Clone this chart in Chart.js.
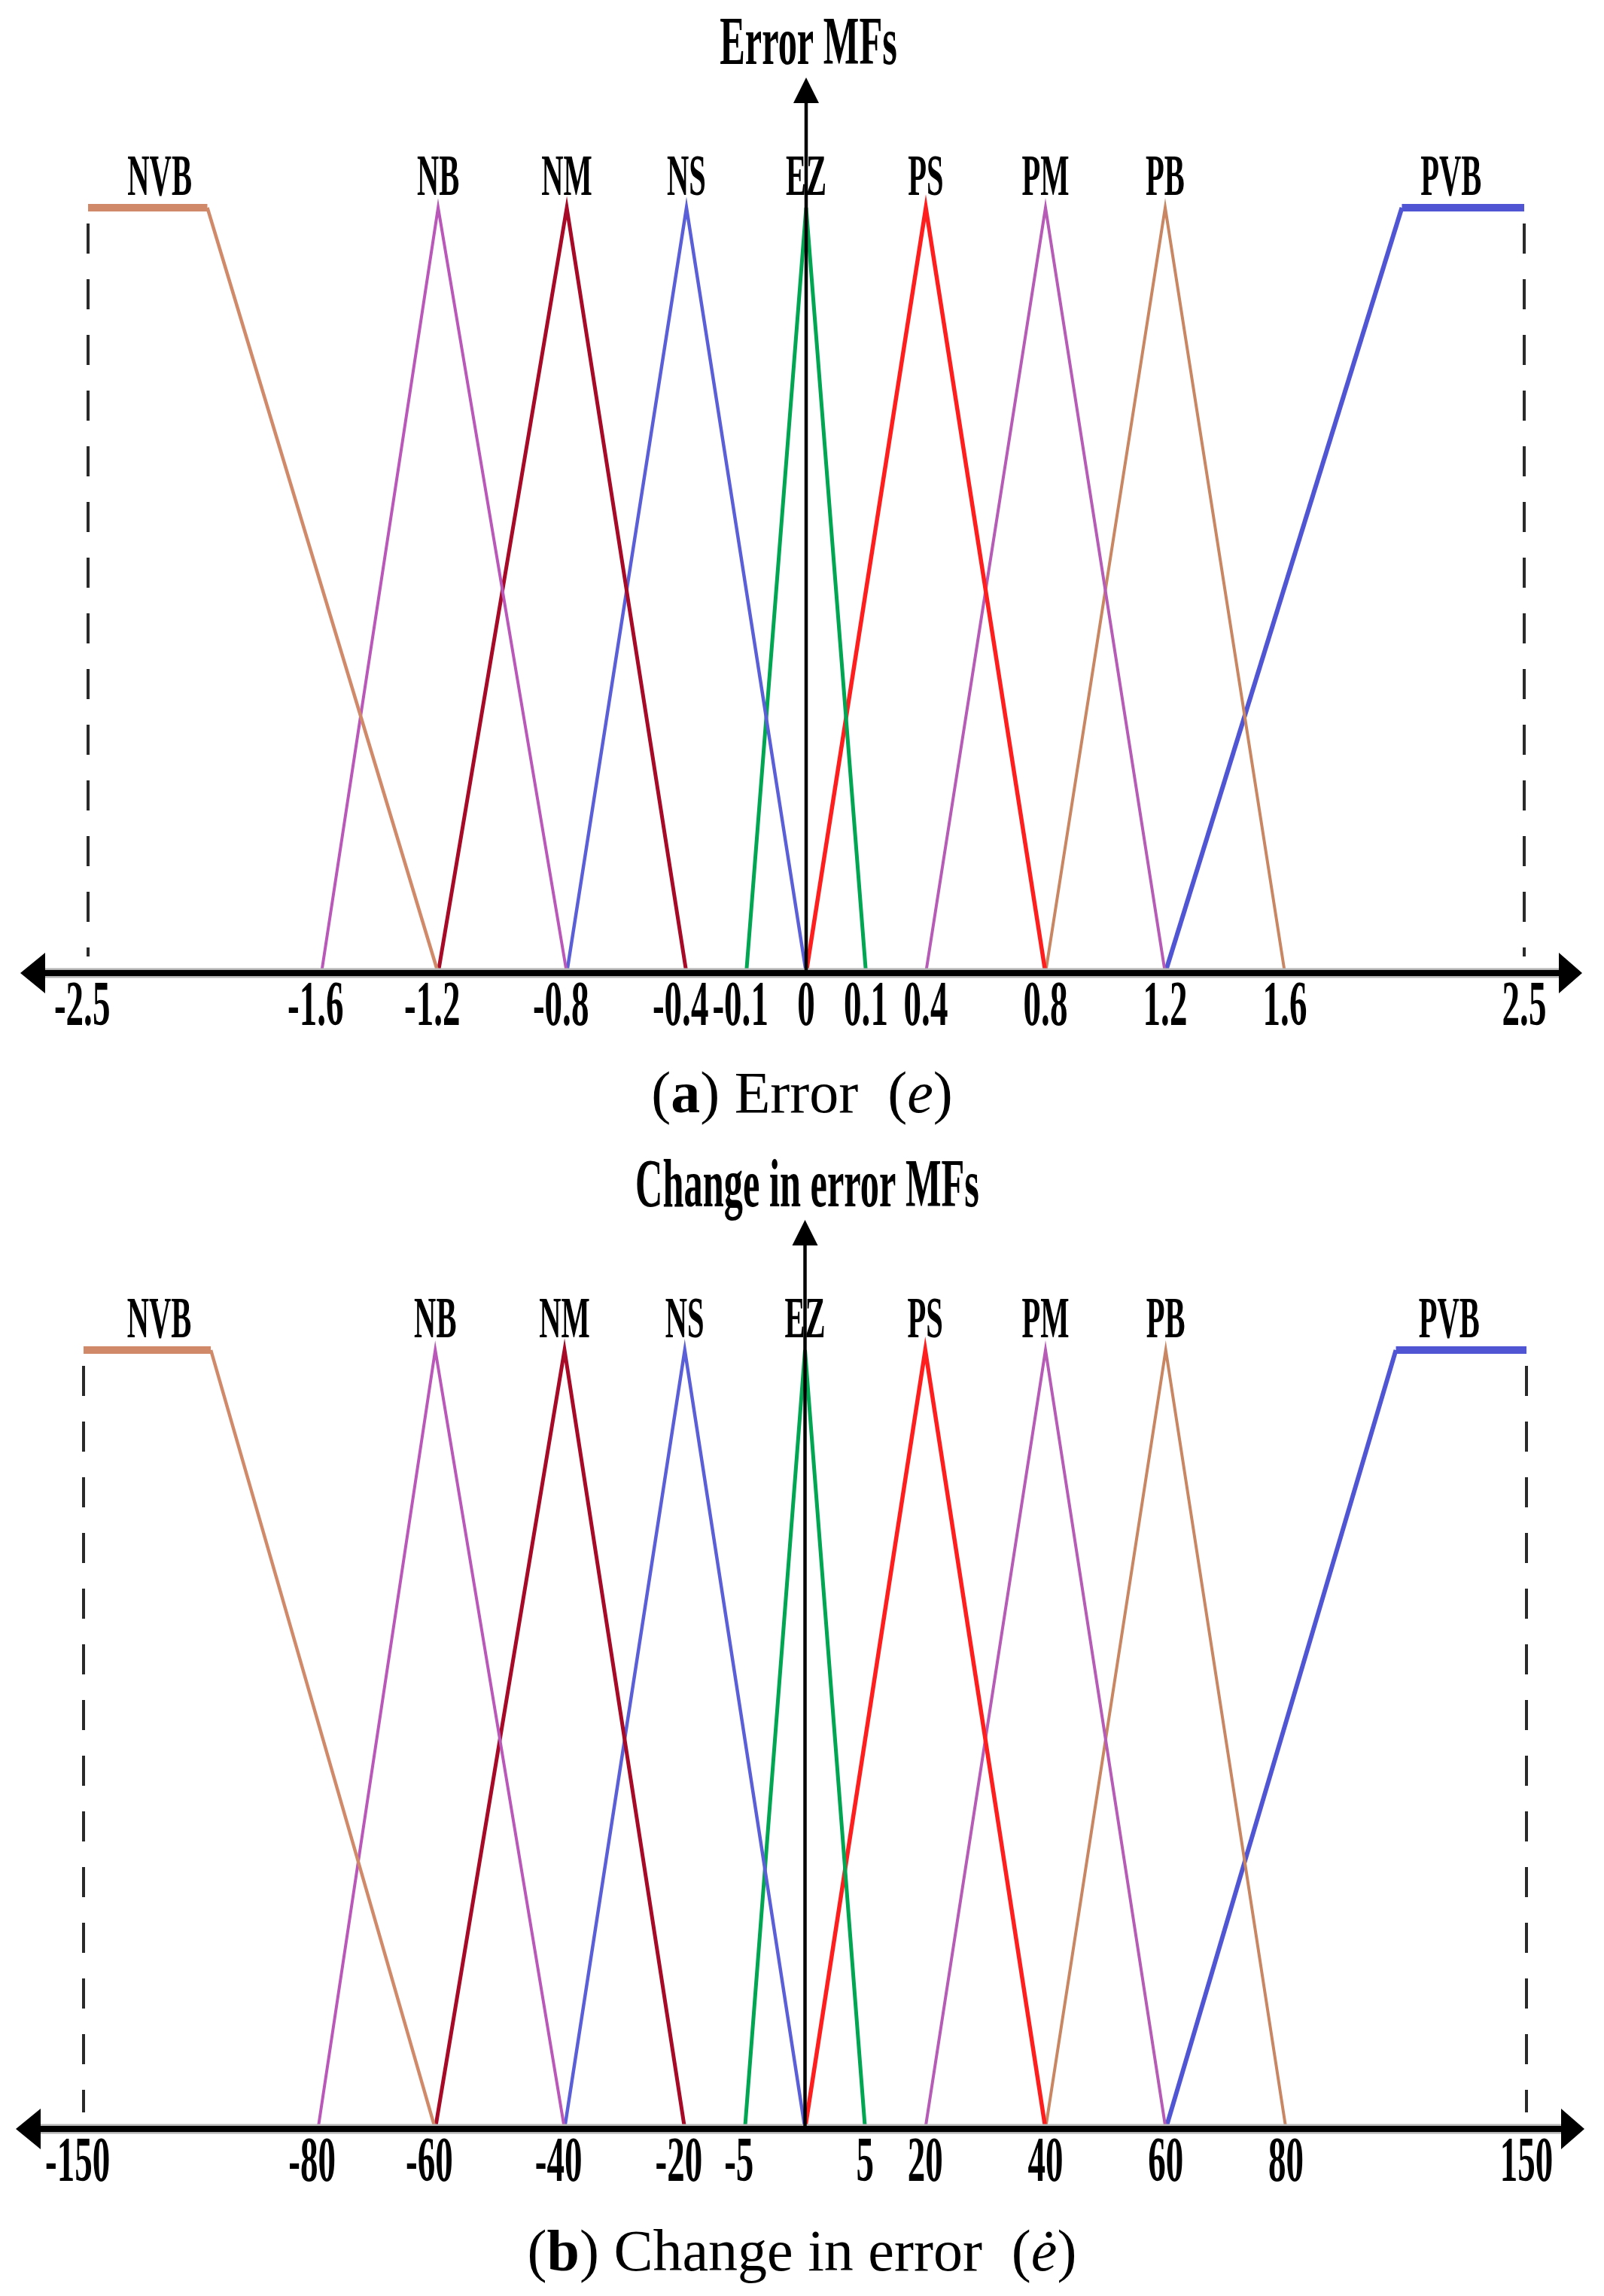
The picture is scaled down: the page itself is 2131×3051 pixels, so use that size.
<!DOCTYPE html>
<html>
<head>
<meta charset="utf-8">
<script src="https://cdn.jsdelivr.net/npm/chart.js@4.4.1/dist/chart.umd.min.js"></script>
<style>
html,body{margin:0;padding:0;background:#fff;}
#wrap{position:relative;width:2131px;height:3051px;overflow:hidden;background:#fff;}
canvas{position:absolute;left:0;}
.cap{position:absolute;left:0;width:2131px;text-align:center;font-family:"Liberation Serif","Times New Roman",serif;font-size:78px;line-height:78px;color:#000;white-space:pre;}
</style>
</head>
<body>
<div id="wrap">
  <canvas id="chartA" width="2131" height="1400" style="top:0px;width:2131px;height:1400px;"></canvas>
  <div class="cap" style="top:1413px;">(<b>a</b>) Error  (<i>e</i>)</div>
  <canvas id="chartB" width="2131" height="1440" style="top:1500px;width:2131px;height:1440px;"></canvas>
  <div class="cap" style="top:2952px;">(<b>b</b>) Change in error  (<i>ė</i>)</div>
</div>
<script>
// ---------------- DATA ----------------
const mfNames = ['NVB','NB','NM','NS','EZ','PS','PM','PB','PVB'];

// (a) Error: tick values and labels
const errorTicks = [-2.5,-1.6,-1.2,-0.8,-0.4,-0.1,0,0.1,0.4,0.8,1.2,1.6,2.5];
const errorTickLabels = ['-2.5','-1.6','-1.2','-0.8','-0.4','-0.1','0','0.1','0.4','0.8','1.2','1.6','2.5'];
// (a) Error MF breakpoints
const eNVB = [-2.5,-2.04,-1.2];
const eNB  = [-1.6,-1.2,-0.8];
const eNM  = [-1.2,-0.8,-0.4];
const eNS  = [-0.8,-0.4,0];
const eEZ  = [-0.1,0,0.1];
const ePS  = [0,0.4,0.8];
const ePM  = [0.4,0.8,1.2];
const ePB  = [0.8,1.2,1.6];
const ePVB = [1.2,2.04,2.5];

// (b) Change in error: tick values and labels
const dErrorTicks = [-150,-80,-60,-40,-20,-5,0,5,20,40,60,80,150];
const dErrorTickLabels = ['-150','-80','-60','-40','-20','-5','','5','20','40','60','80','150'];
// (b) Change in error MF breakpoints
const dNVB = [-150,-112,-60];
const dNB  = [-80,-60,-40];
const dNM  = [-60,-40,-20];
const dNS  = [-40,-20,0];
const dEZ  = [-5,0,5];
const dPS  = [0,20,40];
const dPM  = [20,40,60];
const dPB  = [40,60,80];
const dPVB = [60,112,150];

// membership degrees at the breakpoints
const muLeft  = [1,1,0];
const muTri   = [0,1,0];
const muRight = [0,1,1];
const mfShapes = [muLeft,muTri,muTri,muTri,muTri,muTri,muTri,muTri,muRight];

// ---------------- LAYOUT / STYLE ----------------
// schematic (non-uniform) axis: slot position of each tick along the axis
const axisSlots = [0,3.9,5.85,8,10,11,12,13,14,16,18,20,24];
const mfStyle = [
  {color:'#D08A6A', width:4.5},
  {color:'#BA58BA', width:4},
  {color:'#A60A26', width:5},
  {color:'#5A5FD8', width:4.5},
  {color:'#00A652', width:5},
  {color:'#FF1E1E', width:5.5},
  {color:'#B65CB6', width:4},
  {color:'#C98662', width:4},
  {color:'#5055D4', width:6}
];
const FONT = '"Liberation Serif","Times New Roman",serif';

function makeWarp(ticks){
  return function(v){
    for(let i=0;i<ticks.length-1;i++){
      if(v>=ticks[i] && v<=ticks[i+1]){
        return axisSlots[i] + (v-ticks[i])/(ticks[i+1]-ticks[i])*(axisSlots[i+1]-axisSlots[i]);
      }
    }
    return v<ticks[0] ? axisSlots[0] : axisSlots[axisSlots.length-1];
  };
}

function squeezeText(ctx, text, x, y, size, sx, hangMinus){
  ctx.save();
  ctx.font = 'bold ' + size + 'px ' + FONT;
  ctx.textAlign = 'center';
  ctx.textBaseline = 'alphabetic';
  ctx.fillStyle = '#000';
  let dx = 0;
  if (hangMinus && text.charAt(0) === '-') dx = -ctx.measureText('-').width / 2;
  ctx.translate(x, y);
  ctx.scale(sx, 1);
  ctx.fillText(text, dx, 0);
  ctx.restore();
}

function makeDecor(cfg){
  return {
    id: 'decor',
    beforeDatasetsDraw(chart){
      const ctx = chart.ctx, xs = chart.scales.x, ys = chart.scales.y;
      const y1 = ys.getPixelForValue(1), y0 = ys.getPixelForValue(0);
      const ends = [cfg.ticks[0], cfg.ticks[cfg.ticks.length-1]];
      ctx.save();
      ctx.strokeStyle = '#2a2a2a';
      ctx.lineWidth = 4;
      ctx.setLineDash([40,34]);
      ends.forEach(v => {
        const px = Math.round(xs.getPixelForValue(cfg.warp(v)));
        ctx.beginPath();
        ctx.moveTo(px, y1 + 21);
        ctx.lineTo(px, y0 - 22);
        ctx.stroke();
      });
      ctx.restore();
    },
    afterDatasetsDraw(chart){
      const ctx = chart.ctx, xs = chart.scales.x, ys = chart.scales.y;
      const area = chart.chartArea;
      const y1 = ys.getPixelForValue(1), y0 = ys.getPixelForValue(0);
      const xz = xs.getPixelForValue(cfg.warp(0));

      // MF names
      cfg.mfs.forEach((pts, i) => {
        const shape = mfShapes[i];
        let s;
        if (shape === muLeft) s = (cfg.warp(pts[0]) + cfg.warp(pts[1]))/2 + 0.2;
        else if (shape === muRight) s = (cfg.warp(pts[1]) + cfg.warp(pts[2]))/2 - 0.2;
        else s = cfg.warp(pts[1]);
        squeezeText(ctx, mfNames[i], xs.getPixelForValue(s), y1 - 17, 78, 0.52, false);
      });

      // tick labels
      cfg.ticks.forEach((v, i) => {
        const lab = cfg.tickLabels[i];
        if (!lab) return;
        squeezeText(ctx, lab, xs.getPixelForValue(cfg.warp(v)), y0 + 69, 84, 0.56, true);
      });

      // horizontal axis with arrows
      const lt = area.left - 90, lb = area.left - 57;
      const rt = area.right + 77, rb = area.right + 46;
      ctx.save();
      ctx.strokeStyle = '#b4b4b4';
      ctx.lineWidth = 13;
      ctx.beginPath(); ctx.moveTo(lb, y0); ctx.lineTo(rb, y0); ctx.stroke();
      ctx.strokeStyle = '#000';
      ctx.lineWidth = 8;
      ctx.beginPath(); ctx.moveTo(lb, y0); ctx.lineTo(rb, y0); ctx.stroke();
      ctx.fillStyle = '#000';
      ctx.beginPath(); ctx.moveTo(lt, y0); ctx.lineTo(lb, y0 - 27); ctx.lineTo(lb, y0 + 27); ctx.closePath(); ctx.fill();
      ctx.beginPath(); ctx.moveTo(rt, y0); ctx.lineTo(rb, y0 - 27); ctx.lineTo(rb, y0 + 27); ctx.closePath(); ctx.fill();

      // vertical axis with arrow
      const tipY = y1 - 173, baseY = tipY + 34;
      ctx.strokeStyle = '#000';
      ctx.lineWidth = 4.5;
      ctx.beginPath(); ctx.moveTo(xz, y0); ctx.lineTo(xz, baseY); ctx.stroke();
      ctx.beginPath(); ctx.moveTo(xz, tipY); ctx.lineTo(xz - 17, baseY); ctx.lineTo(xz + 17, baseY); ctx.closePath(); ctx.fill();
      ctx.restore();

      // title
      squeezeText(ctx, cfg.title, xz + 3, tipY - 18, 90, 0.56, false);
    }
  };
}

function buildChart(canvasId, cfg, pad){
  const datasets = cfg.mfs.map((pts, i) => ({
    label: mfNames[i],
    data: pts.map((v, k) => ({x: cfg.warp(v), y: mfShapes[i][k]})),
    borderColor: mfStyle[i].color,
    borderWidth: mfStyle[i].width,
    segment: {
      borderWidth: c => (c.p0.parsed.y === 1 && c.p1.parsed.y === 1) ? 10 : mfStyle[i].width
    },
    pointRadius: 0,
    fill: false,
    tension: 0,
    clip: false
  }));
  return new Chart(document.getElementById(canvasId), {
    type: 'line',
    data: {datasets},
    options: {
      responsive: false,
      animation: false,
      devicePixelRatio: 1,
      layout: {padding: pad},
      plugins: {legend: {display: false}, tooltip: {enabled: false}, title: {display: false}},
      scales: {
        x: {type: 'linear', min: axisSlots[0], max: axisSlots[axisSlots.length-1], display: false},
        y: {type: 'linear', min: 0, max: 1, display: false}
      }
    },
    plugins: [makeDecor(cfg)]
  });
}

buildChart('chartA', {
  title: 'Error MFs',
  ticks: errorTicks,
  tickLabels: errorTickLabels,
  warp: makeWarp(errorTicks),
  mfs: [eNVB,eNB,eNM,eNS,eEZ,ePS,ePM,ePB,ePVB]
}, {left: 117, right: 106, top: 276, bottom: 107});

buildChart('chartB', {
  title: 'Change in error MFs',
  ticks: dErrorTicks,
  tickLabels: dErrorTickLabels,
  warp: makeWarp(dErrorTicks),
  mfs: [dNVB,dNB,dNM,dNS,dEZ,dPS,dPM,dPB,dPVB]
}, {left: 111, right: 103, top: 294, bottom: 111});
</script>
</body>
</html>
